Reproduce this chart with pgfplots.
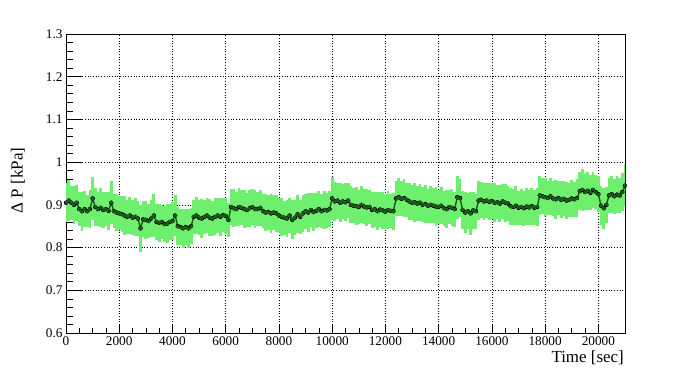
\documentclass[border=0pt]{standalone}
\usepackage{pgfplots}
\usepackage{pgfplotstable}
\pgfplotsset{compat=1.18}
\usepackage{fontspec}
\setmainfont{Liberation Serif}
\definecolor{bandgreen}{RGB}{110,240,110}
\definecolor{darkpts}{RGB}{25,90,25}
\pgfplotstableread{
x y e
0 0.905 0.045
100 0.910 0.048
200 0.905 0.040
300 0.900 0.044
400 0.905 0.042
500 0.890 0.040
600 0.885 0.046
700 0.890 0.042
800 0.885 0.038
900 0.890 0.044
1000 0.915 0.050
1100 0.895 0.045
1200 0.890 0.040
1300 0.893 0.046
1400 0.888 0.042
1500 0.890 0.040
1600 0.886 0.044
1700 0.905 0.050
1800 0.885 0.040
1900 0.882 0.044
2000 0.880 0.040
2100 0.878 0.042
2200 0.875 0.045
2300 0.872 0.040
2400 0.875 0.043
2500 0.870 0.041
2600 0.872 0.045
2700 0.868 0.040
2800 0.845 0.055
2900 0.866 0.042
3000 0.865 0.045
3100 0.862 0.040
3200 0.868 0.044
3300 0.875 0.050
3400 0.860 0.042
3500 0.858 0.045
3600 0.860 0.040
3700 0.855 0.043
3800 0.856 0.046
3900 0.860 0.042
4000 0.862 0.044
4100 0.875 0.048
4200 0.850 0.045
4300 0.848 0.042
4400 0.845 0.046
4500 0.848 0.043
4600 0.845 0.045
4700 0.850 0.042
4800 0.872 0.040
4900 0.875 0.043
5000 0.870 0.041
5100 0.868 0.045
5200 0.872 0.040
5300 0.875 0.042
5400 0.870 0.044
5500 0.868 0.040
5600 0.872 0.043
5700 0.875 0.041
5800 0.872 0.044
5900 0.876 0.040
6000 0.874 0.043
6100 0.865 0.040
6200 0.895 0.042
6300 0.892 0.045
6400 0.890 0.040
6500 0.895 0.044
6600 0.893 0.041
6700 0.890 0.045
6800 0.888 0.040
6900 0.892 0.043
7000 0.895 0.041
7100 0.890 0.044
7200 0.890 0.040
7300 0.893 0.042
7400 0.885 0.040
7500 0.882 0.044
7600 0.883 0.041
7700 0.880 0.045
7800 0.882 0.040
7900 0.880 0.043
8000 0.875 0.042
8100 0.872 0.045
8200 0.870 0.040
8300 0.868 0.044
8400 0.875 0.042
8500 0.865 0.046
8600 0.870 0.041
8700 0.878 0.044
8800 0.872 0.040
8900 0.880 0.043
9000 0.885 0.041
9100 0.882 0.045
9200 0.888 0.040
9300 0.883 0.044
9400 0.886 0.041
9500 0.890 0.043
9600 0.885 0.040
9700 0.888 0.044
9800 0.887 0.041
9900 0.890 0.043
10000 0.915 0.050
10100 0.908 0.045
10200 0.910 0.042
10300 0.905 0.046
10400 0.908 0.041
10500 0.906 0.044
10600 0.910 0.040
10700 0.900 0.043
10800 0.898 0.041
10900 0.897 0.045
11000 0.895 0.040
11100 0.900 0.043
11200 0.896 0.041
11300 0.894 0.044
11400 0.895 0.040
11500 0.888 0.043
11600 0.890 0.041
11700 0.885 0.045
11800 0.889 0.040
11900 0.887 0.043
12000 0.884 0.041
12100 0.888 0.044
12200 0.886 0.040
12300 0.885 0.043
12400 0.915 0.042
12500 0.918 0.045
12600 0.914 0.041
12700 0.916 0.044
12800 0.912 0.040
12900 0.908 0.043
13000 0.905 0.041
13100 0.906 0.045
13200 0.903 0.040
13300 0.905 0.043
13400 0.900 0.041
13500 0.902 0.044
13600 0.898 0.040
13700 0.900 0.043
13800 0.898 0.041
13900 0.896 0.045
14000 0.895 0.040
14100 0.898 0.043
14200 0.892 0.041
14300 0.890 0.044
14400 0.895 0.040
14500 0.893 0.043
14600 0.890 0.041
14700 0.918 0.050
14800 0.916 0.045
14900 0.888 0.045
15000 0.882 0.048
15100 0.885 0.042
15200 0.880 0.050
15300 0.887 0.043
15400 0.885 0.041
15500 0.910 0.045
15600 0.912 0.042
15700 0.908 0.044
15800 0.910 0.040
15900 0.907 0.043
16000 0.909 0.041
16100 0.905 0.045
16200 0.906 0.040
16300 0.903 0.043
16400 0.908 0.041
16500 0.905 0.044
16600 0.903 0.040
16700 0.897 0.043
16800 0.895 0.041
16900 0.898 0.045
17000 0.893 0.040
17100 0.895 0.043
17200 0.892 0.041
17300 0.896 0.044
17400 0.894 0.040
17500 0.897 0.043
17600 0.893 0.041
17700 0.895 0.044
17800 0.922 0.045
17900 0.920 0.042
18000 0.918 0.044
18100 0.916 0.040
18200 0.920 0.043
18300 0.915 0.041
18400 0.913 0.045
18500 0.916 0.040
18600 0.912 0.043
18700 0.914 0.041
18800 0.910 0.044
18900 0.912 0.040
19000 0.915 0.043
19100 0.913 0.041
19200 0.916 0.044
19300 0.932 0.045
19400 0.935 0.050
19500 0.930 0.042
19600 0.933 0.044
19700 0.928 0.041
19800 0.935 0.043
19900 0.930 0.040
20000 0.925 0.042
20100 0.898 0.045
20200 0.892 0.048
20300 0.900 0.042
20400 0.922 0.040
20500 0.925 0.043
20600 0.920 0.041
20700 0.924 0.044
20800 0.922 0.040
20900 0.930 0.045
21000 0.945 0.050
}\datatable
\begin{document}
\begin{tikzpicture}
\useasboundingbox (0,0) rectangle (690bp,368bp);
\begin{axis}[
  at={(66bp,35bp)}, anchor=south west,
  scale only axis, width=559bp, height=299bp,
  xmin=0, xmax=21000, ymin=0.6, ymax=1.3,
  xtick={0,2000,...,20000}, minor x tick num=3,
  ytick={0.6,0.7,0.8,0.9,1.0,1.1,1.2,1.3}, minor y tick num=4,
  tick align=inside, xtick pos=bottom, ytick pos=left,
  xtick style={/pgfplots/major tick length=9bp,/pgfplots/minor tick length=5bp, black, line width=0.6bp},
  ytick style={/pgfplots/major tick length=16bp,/pgfplots/minor tick length=7bp, black, line width=0.6bp},
  axis line style={line width=0.8bp},
  grid=major,
  major grid style={black, line width=0.7bp, dash pattern=on 0.8bp off 1.9bp},
  scaled ticks=false,
  /pgf/number format/1000 sep={},
  /pgf/number format/assume math mode=true,
  tick label style={font=\fontsize{13.3}{14}\selectfont},
  xlabel={Time [sec]},
  ylabel={Δ P [kPa]},
  label style={font=\fontsize{17}{18}\selectfont},
  xlabel style={at={(axis description cs:1,0)}, anchor=base east, inner sep=0pt, yshift=-29bp, xshift=-1bp},
  ylabel style={at={(axis description cs:-0.086,0.51)}, anchor=center, inner sep=0pt},
]
\addplot[only marks, mark=none, error bars/.cd, y dir=both, y explicit,
  error mark=none, error bar style={line width=2.8bp, color=bandgreen}]
  table[x=x, y=y, y error=e] {\datatable};
\addplot[darkpts, line width=1.4bp, mark=square*, mark size=0.8bp]
  table[x=x, y=y] {\datatable};
\end{axis}
\end{tikzpicture}
\end{document}
